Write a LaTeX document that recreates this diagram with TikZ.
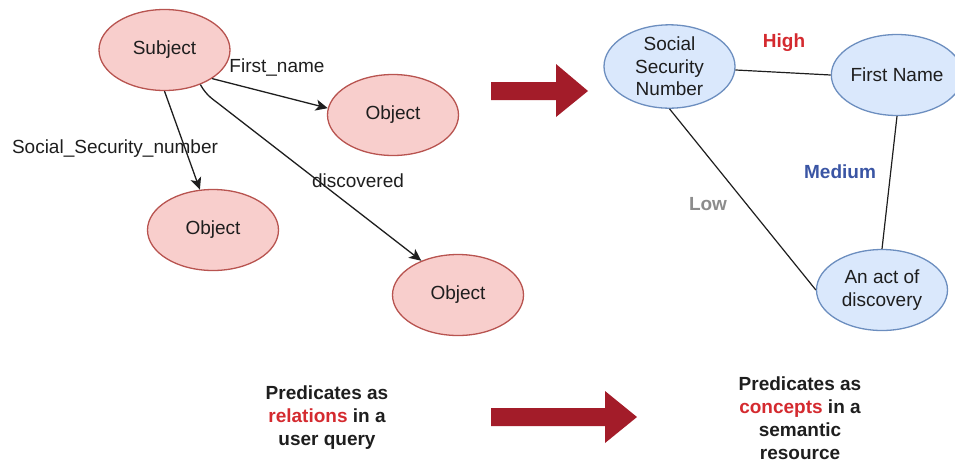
\documentclass[tikz,border=0pt]{standalone}
\usepackage{fontspec}
\setmainfont{Liberation Sans}
\usetikzlibrary{shapes.geometric}
\usetikzlibrary{arrows.meta}
\definecolor{relfill}{HTML}{F8CECC}
\definecolor{reldraw}{HTML}{B85450}
\definecolor{confill}{HTML}{DAE8FC}
\definecolor{condraw}{HTML}{6C8EBF}
\definecolor{bigred}{HTML}{A31C29}
\definecolor{hired}{HTML}{D42A2F}
\definecolor{medblue}{HTML}{3A55A4}
\definecolor{lowgray}{HTML}{8C8C8C}
\definecolor{txt}{HTML}{1E1E1E}

\begin{document}
\begin{tikzpicture}[x=1pt, y=-1pt,
  every node/.style={font=\fontsize{19}{22.5}\selectfont, text=txt},
  relnode/.style={ellipse, draw=reldraw, fill=relfill, line width=1.3pt,
    minimum width=131pt, minimum height=81pt, inner sep=0pt, align=center},
  concept/.style={ellipse, draw=condraw, fill=confill, line width=1.3pt,
    minimum width=131pt, minimum height=81pt, inner sep=0pt, align=center},
  relarrow/.style={line width=1.3pt, txt, -{Stealth[length=12pt, width=11pt, inset=3pt]}},
  simline/.style={line width=1.2pt, txt},
  caption/.style={font=\fontsize{19}{23}\selectfont\bfseries, align=center}]
\useasboundingbox (0,0) rectangle (955,464);

\node (subj) [relnode] at (164.5,50) {Subject};
\node (obj1) [relnode] at (393,115) {Object};
\node (obj2) [relnode] at (213,230) {Object};
\node (obj3) [relnode] at (458,295) {Object};

\draw [relarrow] (subj.-31) -- (obj1.174);
\draw [relarrow] (subj.south) -- (obj2.108);
\draw [relarrow] (subj.-44) .. controls +(7,12) and +(-10,-8) .. ++(22,22) -- (obj3.137);

\node (lfirst) at (277,67) {First\_name};
\node (lssn) at (115,149) {Social\_Security\_number};
\node (ldisc) at (358,181) {discovered};

\node (ssn) [concept] at (669.5,66.5) {Social\\Security\\Number};
\node (fname) [concept] at (897,75) {First Name};
\node (act) [concept] at (882,290) {An act of\\discovery};

\draw [simline] (ssn) -- (fname.west);
\draw [simline] (fname.south) -- (act.north);
\draw [simline] (ssn.south) -- (act.west);

\node (high) [font=\fontsize{19}{22}\selectfont\bfseries, text=hired] at (784,43) {High};
\node (medium) [font=\fontsize{19}{22}\selectfont\bfseries, text=medblue] at (840,172) {Medium};
\node (low) [font=\fontsize{19}{22}\selectfont\bfseries, text=lowgray] at (708,204) {Low};

\fill [bigred] (491,82) -- (556,82) -- (556,64) -- (588,91) -- (556,117) -- (556,100) -- (491,100) -- cycle;
\fill [bigred] (491,408) -- (605,408) -- (605,391) -- (637,417) -- (605,443) -- (605,426) -- (491,426) -- cycle;

\node (qtext) [caption] at (327,418) {Predicates as\\\textcolor{hired}{relations} in a\\user query};
\node (rtext) [caption] at (800,418) {Predicates as\\\textcolor{hired}{concepts} in a\\semantic\\resource};
\end{tikzpicture}
\end{document}
